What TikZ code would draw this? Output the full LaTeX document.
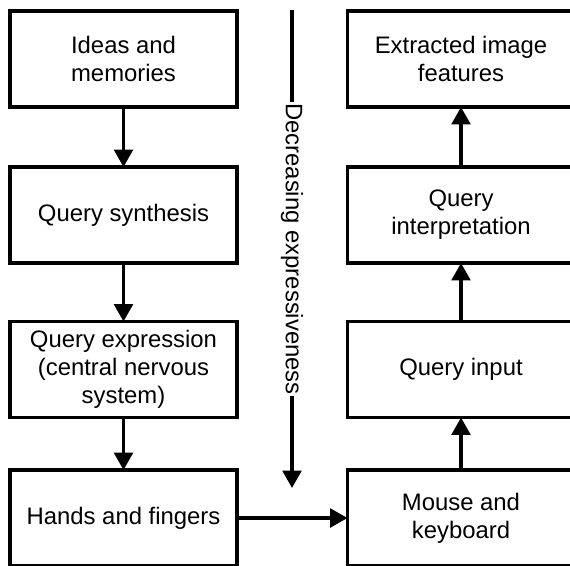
\documentclass[tikz,border=0pt]{standalone}
\usepackage{fontspec}
\setmainfont{Liberation Sans}
\usetikzlibrary{arrows.meta}
\begin{document}
\begin{tikzpicture}[x=0.75pt,y=-0.75pt,
  box/.style={draw=black, line width=2.6pt, minimum width=170.25pt, minimum height=72pt,
    inner sep=0pt, outer sep=0pt, align=center, font=\fontsize{17.9}{21}\selectfont, fill=white},
  flow/.style={line width=2.4pt, -{Triangle[length=13pt,width=14pt]}},
  lbl/.style={font=\fontsize{17.9}{21}\selectfont, fill=white, inner sep=1pt}]
\useasboundingbox (0,0) rectangle (570,565);
\clip (0,0) rectangle (570,565);
\node[box] (ideas) at (123.5,59) {Ideas and\\memories};
\node[box] (synth) at (123.5,215) {Query synthesis};
\node[box] (expr) at (123.5,369.5) {Query expression\\(central nervous\\system)};
\node[box] (hands) at (123.5,518) {Hands and fingers};
\node[box] (feat) at (461,59) {Extracted image\\features};
\node[box] (interp) at (461,215) {Query\\interpretation};
\node[box] (input) at (461,369.5) {Query input};
\node[box] (mouse) at (461,518) {Mouse and\\keyboard};
\draw[flow] (ideas) -- (synth);
\draw[flow] (synth) -- (expr);
\draw[flow] (expr) -- (hands);
\draw[flow] (hands) -- (mouse);
\draw[flow] (mouse) -- (input);
\draw[flow] (input) -- (interp);
\draw[flow] (interp) -- (feat);
\coordinate (dtop) at (292,10);
\coordinate (dbot) at (292,488);
\draw[flow] (dtop) -- node[lbl, rotate=-90] (dlabel) {Decreasing expressiveness} (dbot);
\end{tikzpicture}
\end{document}
